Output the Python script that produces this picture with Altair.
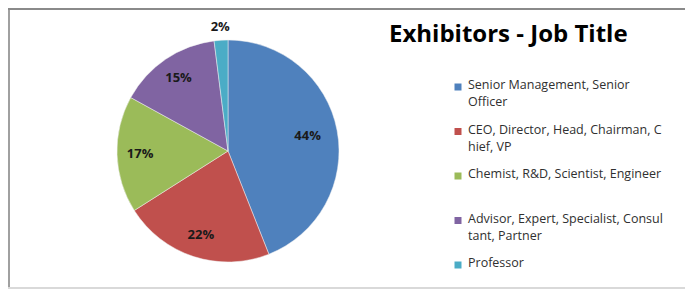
import altair as alt
import pandas as pd

title_text = "Exhibitors - Job Title"
categories = [
    "Senior Management, Senior Officer",
    "CEO, Director, Head, Chairman, Chief, VP",
    "Chemist, R&D, Scientist, Engineer",
    "Advisor, Expert, Specialist, Consultant, Partner",
    "Professor",
]
legend_lines = [
    "Senior Management, Senior\nOfficer",
    "CEO, Director, Head, Chairman, C\nhief, VP",
    "Chemist, R&D, Scientist, Engineer",
    "Advisor, Expert, Specialist, Consul\ntant, Partner",
    "Professor",
]
shares = [44, 22, 17, 15, 2]
colors = ["#4F81BD", "#C0504D", "#9BBB59", "#8064A2", "#4BACC6"]

df = pd.DataFrame({
    "category": categories,
    "legend": legend_lines,
    "share": shares,
    "idx": list(range(len(categories))),
})

W, H = 677, 281
CX, CY, R = 220, 143, 111

color = alt.Color("category:N", sort=categories,
                  scale=alt.Scale(domain=categories, range=colors), legend=None)

base = alt.Chart(df)

pie = base.mark_arc(outerRadius=R, stroke="#f0f0f0", strokeWidth=0.5).encode(
    theta=alt.Theta("share:Q", stack=True),
    order=alt.Order("idx:Q"),
    color=color,
    x=alt.value(CX), y=alt.value(CY),
)

labels = base.transform_joinaggregate(total="sum(share)").transform_window(
    cum="sum(share)", sort=[alt.SortField("idx")]
).transform_calculate(
    mid="(datum.cum - datum.share/2) / datum.total * 2 * PI",
    lr="datum.share < 5 ? 124 : (datum.share > 40 ? 81 : 88)",
    lab="datum.share + '%'",
).mark_text(font="Open Sans", fontWeight="bold", fontSize=13, color="#1a1a1a").encode(
    theta=alt.Theta("mid:Q", scale=None),
    radius=alt.Radius("lr:Q", scale=None),
    text="lab:N",
    x=alt.value(CX), y=alt.value(CY),
)

yleg = alt.Y("category:N", sort=categories, axis=None,
             scale=alt.Scale(type="point", domain=categories, range=[79, 257],
                             padding=0))

leg_sym = base.mark_square(size=49, opacity=1).encode(
    x=alt.value(450), y=yleg, color=color,
)
leg_txt = base.mark_text(align="left", baseline="top", dy=-8, lineBreak="\n",
                         lineHeight=17, font="Open Sans", fontSize=12.5,
                         color="#303030").encode(
    x=alt.value(460), y=yleg, text="legend:N",
)

title = alt.Chart(pd.DataFrame({"t": [title_text]})).mark_text(
    align="left", baseline="alphabetic", font="Open Sans", fontWeight="bold",
    fontSize=24, color="#000000"
).encode(x=alt.value(381), y=alt.value(34), text="t:N")

frame_df = pd.DataFrame({"a": [0]})
left = alt.Chart(frame_df).mark_rule(color="#a0a0a0", strokeWidth=2).encode(
    x=alt.value(1), y=alt.value(0), y2=alt.value(H))
top = alt.Chart(frame_df).mark_rule(color="#8a8a8a", strokeWidth=2).encode(
    x=alt.value(0), x2=alt.value(W + 8), y=alt.value(1))
bottom = alt.Chart(frame_df).mark_rule(color="#d9d9d9", strokeWidth=2).encode(
    x=alt.value(0), x2=alt.value(W + 8), y=alt.value(H - 1))

chart = alt.layer(pie, labels, leg_sym, leg_txt, title, left, top, bottom).properties(
    width=W, height=H, padding=0, autosize="none"
).configure_view(stroke=None)

chart.save("out.html", embed_options={"renderer": "svg", "actions": False})
